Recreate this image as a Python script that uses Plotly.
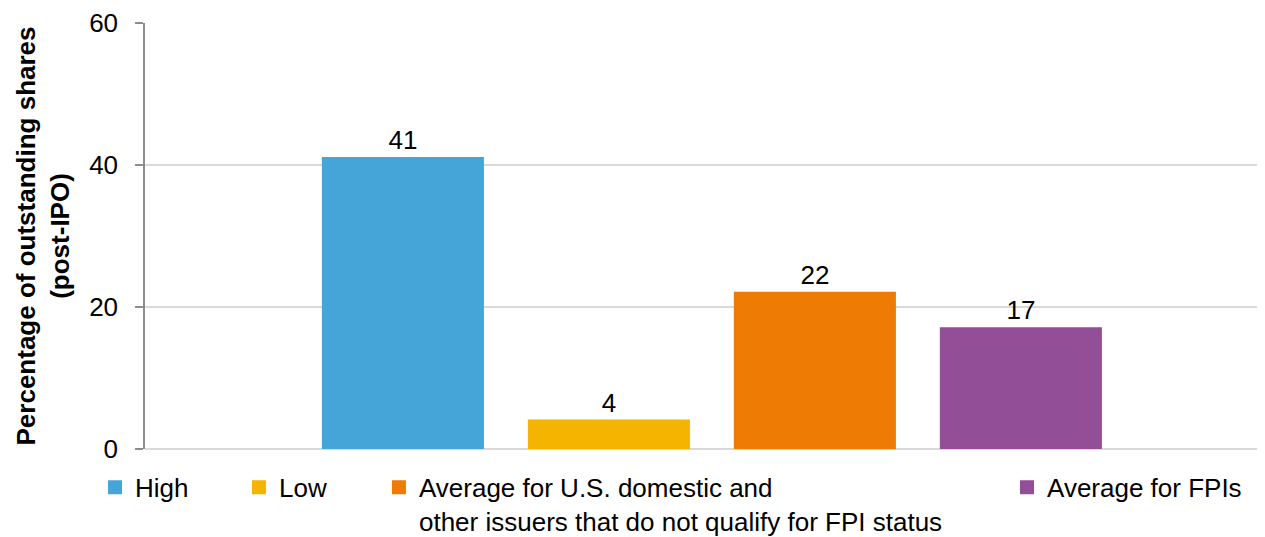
import plotly.graph_objects as go

categories = ["High", "Low", "Average for U.S. domestic and<br>other issuers that do not qualify for FPI status", "Average for FPIs"]
values = [41, 4, 22, 17]
colors = ["#45A5D8", "#F4B400", "#EE7B03", "#924E96"]
legend_ids = ["legend", "legend2", "legend3", "legend4"]
legend_x = [-0.0443, 0.0833, 0.2074, 0.7642]

FONT = "Liberation Sans, Arial, sans-serif"

fig = go.Figure()
for i, (cat, val, col, lid) in enumerate(zip(categories, values, colors, legend_ids)):
    fig.add_trace(go.Bar(
        x=[i], y=[val], name=cat, legend=lid,
        marker=dict(color=col, line=dict(color=col, width=2)),
        width=0.777,
        text=[val], textposition="outside", texttemplate="%{y}",
        textfont=dict(size=26, color="#000000", family=FONT),
        cliponaxis=False, hoverinfo="skip",
    ))

layout_legends = {}
for lid, lx in zip(legend_ids, legend_x):
    layout_legends[lid] = dict(
        orientation="h", x=lx, xanchor="left", y=-0.035, yanchor="top",
        font=dict(size=26, color="#000000", family=FONT),
        bgcolor="rgba(0,0,0,0)", valign="top", itemwidth=30,
    )

fig.update_layout(
    width=1265, height=537,
    margin=dict(l=137, r=0, t=15, b=73),
    paper_bgcolor="white", plot_bgcolor="white",
    barmode="overlay", showlegend=True,
    font=dict(family=FONT, size=26, color="#000000"),
    xaxis=dict(range=[-1.252, 4.224], showgrid=False, zeroline=False,
               showticklabels=False, showline=False, ticks=""),
    yaxis=dict(range=[0, 60], tickvals=[0, 20, 40, 60],
               showgrid=True, gridcolor="#D9D9D9", gridwidth=2,
               zeroline=True, zerolinecolor="#D9D9D9", zerolinewidth=2,
               showline=True, linecolor="#8C8C8C", linewidth=1.5,
               ticks="outside", ticklen=8, tickcolor="#8C8C8C", tickwidth=1.5,
               ticklabelstandoff=12,
               tickfont=dict(size=26, color="#000000", family=FONT),
               title=dict(text="<b>Percentage of outstanding shares<br>(post-IPO)</b>",
                          font=dict(size=26, color="#000000", family=FONT),
                          standoff=12)),
    **layout_legends,
)

fig.write_html("out.html")
